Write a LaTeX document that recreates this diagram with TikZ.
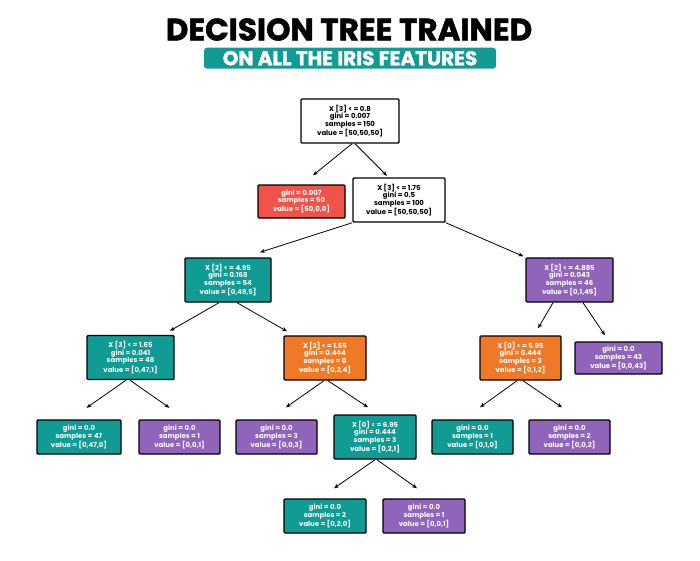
\documentclass[tikz,border=0pt]{standalone}
\usepackage{fontspec}
\setmainfont{Poppins}
\newfontfamily\titlefont{Poppins}[BoldFeatures={FakeBold=1.6}]
\usetikzlibrary{arrows.meta,calc}

\definecolor{irisTeal}{RGB}{16,156,148}
\definecolor{irisRed}{RGB}{239,83,74}
\definecolor{irisOrange}{RGB}{240,121,40}
\definecolor{irisPurple}{RGB}{145,100,188}

\begin{document}
\begin{tikzpicture}[x=1pt,y=-1pt,
  box/.style={draw=black,line width=1.4pt,rounded corners=1pt,align=center,
    inner sep=0pt,font=\bfseries\fontsize{6.9}{7.5}\selectfont,text=white},
  split/.style={box,minimum height=44pt},
  leaf/.style={box,minimum height=34pt},
  edge/.style={line width=0.8pt,-{Stealth[length=5pt,width=4pt]}}]
\useasboundingbox (0,0) rectangle (700,560);

% title
\node[font=\titlefont\bfseries\fontsize{31}{33}\selectfont] (title) at (349,29.5) {DECISION TREE TRAINED};
\node[fill=irisTeal,rounded corners=3pt,minimum width=292pt,minimum height=21pt,inner sep=0pt,
  text=white,font=\titlefont\bfseries\fontsize{20}{22}\selectfont] (sub) at (350,58.2) {ON ALL THE IRIS FEATURES};

% splits
\node[split,fill=white,text=black,minimum width=98pt] (n0) at (350,121) {X [3] < = 0.8\\gini = 0.007\\samples = 150\\value = [50,50,50]};
\node[split,fill=white,text=black,minimum width=92pt] (n2) at (399,200) {X [3] < = 1.75\\gini = 0.5\\samples = 100\\value = [50,50,50]};
\node[split,fill=irisTeal,minimum width=86pt] (n3) at (228,280) {X [2] < = 4.95\\gini = 0.168\\samples = 54\\value = [0,49,5]};
\node[split,fill=irisPurple,minimum width=87pt] (n5) at (569.5,280) {X [2] < = 4.885\\gini = 0.043\\samples = 46\\value = [0,1,45]};
\node[split,fill=irisTeal,minimum width=87pt] (n8) at (130.5,357.5) {X [3] < = 1.65\\gini = 0.041\\samples = 48\\value = [0,47,1]};
\node[split,fill=irisOrange,minimum width=82pt] (n4) at (325,358) {X [2] < = 1.55\\gini = 0.444\\samples = 0\\value = [0,2,4]};
\node[split,fill=irisOrange,minimum width=81pt] (n6) at (520.5,358) {X [0] < = 5.95\\gini = 0.444\\samples = 3\\value = [0,1,2]};
\node[split,fill=irisTeal,minimum width=82pt] (n12) at (375,437) {X [0] < = 6.95\\gini = 0.444\\samples = 3\\value = [0,2,1]};

% leaves
\node[leaf,fill=irisRed,minimum width=87pt,minimum height=33pt] (n1) at (301.5,201.5) {gini = 0.007\\samples = 50\\value = [50,0,0]};
\node[leaf,fill=irisPurple,minimum width=87pt,minimum height=32pt] (n7) at (618.5,358) {gini = 0.0\\samples = 43\\value = [0,0,43]};
\node[leaf,fill=irisTeal,minimum width=84pt] (n9) at (79,437) {gini = 0.0\\samples = 47\\value = [0,47,0]};
\node[leaf,fill=irisPurple,minimum width=81pt] (n10) at (179.5,437) {gini = 0.0\\samples = 1\\value = [0,0,1]};
\node[leaf,fill=irisPurple,minimum width=81pt] (n11) at (276.5,437) {gini = 0.0\\samples = 3\\value = [0,0,3]};
\node[leaf,fill=irisTeal,minimum width=81pt] (n15) at (472.5,437) {gini = 0.0\\samples = 1\\value = [0,1,0]};
\node[leaf,fill=irisPurple,minimum width=81pt] (n16) at (569.5,437) {gini = 0.0\\samples = 2\\value = [0,0,2]};
\node[leaf,fill=irisTeal,minimum width=82pt] (n13) at (325,516) {gini = 0.0\\samples = 2\\value = [0,2,0]};
\node[leaf,fill=irisPurple,minimum width=82pt] (n14) at (424,516) {gini = 0.0\\samples = 1\\value = [0,0,1]};

% edges
\draw[edge] ($(n0.south)+(2,0)$) -- ($(n1.north)+(11.5,-9)$);
\draw[edge] ($(n0.south)+(5,0)$) -- ($(n2.north)+(-12,-1.5)$);
\draw[edge] (n2.south west) -- ($(n3.north)+(32,-5)$);
\draw[edge] (n2.south east) -- ($(n5.north west)+(-2,-1)$);
\draw[edge] ($(n3.south)+(-9,0)$) -- ($(n8.north)+(39.5,-4)$);
\draw[edge] ($(n3.south)+(9,0)$) -- ($(n4.north)+(-38,-4)$);
\draw[edge] ($(n5.south)+(-16.5,0)$) -- ($(n6.north)+(17.5,-7)$);
\draw[edge] ($(n5.south)+(13.5,0)$) -- ($(n7.north)+(-13.5,-6)$);
\draw[edge] ($(n8.south)+(-4.5,0)$) -- ($(n9.north)+(7.5,-11.5)$);
\draw[edge] ($(n8.south)+(-0.5,0)$) -- ($(n10.north)+(-10,-11.5)$);
\draw[edge] ($(n4.south)+(-1,0)$) -- ($(n11.north)+(9.5,-12)$);
\draw[edge] ($(n4.south)+(3,0)$) -- ($(n12.north)+(-7,-7)$);
\draw[edge] ($(n6.south)+(-3.5,0)$) -- ($(n15.north)+(7.5,-12)$);
\draw[edge] ($(n6.south)+(2.5,0)$) -- ($(n16.north)+(-7.5,-12)$);
\draw[edge] (n12.south) -- ($(n13.north)+(9,-10)$);
\draw[edge] ($(n12.south)+(2,0)$) -- ($(n14.north)+(-7,-10)$);
\end{tikzpicture}
\end{document}
